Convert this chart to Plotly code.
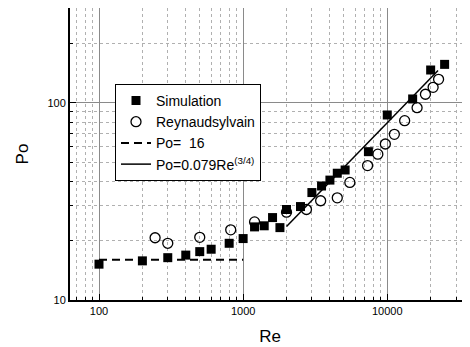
import plotly.graph_objects as go

# Simulation (filled squares)
sim_re = [100, 200, 300, 400, 500, 600, 800, 1000, 1200, 1400, 1600, 1800, 2000, 2500,
          3000, 3500, 4000, 4500, 5100, 7400, 10000, 15000, 20000, 25000]
sim_po = [15.2, 15.8, 16.4, 16.9, 17.6, 18.1, 19.4, 20.5, 23.5, 23.8, 26.2, 23.3, 28.8, 29.8,
          35.1, 37.9, 40.6, 44.0, 45.7, 56.6, 86.9, 104.8, 147, 157]

# Reynaudsylvain (open circles)
rs_re = [245, 300, 500, 820, 1200, 2000, 2750, 3450, 4500, 5500, 7300, 8600, 9700,
         11200, 13200, 16100, 18400, 20800, 22700]
rs_po = [20.7, 19.4, 20.8, 22.7, 24.9, 27.9, 28.8, 31.9, 33.0, 39.5, 48.1, 55.0, 61.9,
         69.3, 81.3, 94.6, 110.7, 120, 131.8]

# Laminar line Po = 16
lam_re = [100, 1000]
lam_po = [16, 16]

# Turbulent fit Po = 0.079 Re^(3/4)
turb_re = [2000, 22500]
turb_po = [23.6, 146]

x_ticks = [100, 1000, 10000]
y_ticks = [10, 100]
x_minor = [70, 80, 90, 200, 300, 400, 500, 600, 700, 800, 900,
           2000, 3000, 4000, 5000, 6000, 7000, 8000, 9000, 20000, 30000]
y_minor = [20, 30, 40, 50, 60, 70, 80, 90, 200, 300]

FONT = "Liberation Sans, Arial, sans-serif"

fig = go.Figure()
fig.add_trace(go.Scatter(x=lam_re, y=lam_po, mode="lines", name="Po=\u00a0 16",
                         line=dict(color="black", width=2, dash="8px,5px"), legendrank=3))
fig.add_trace(go.Scatter(x=turb_re, y=turb_po, mode="lines", name="Po=0.079Re<sup>(3/4)</sup>",
                         line=dict(color="black", width=1.5), legendrank=4))
fig.add_trace(go.Scatter(x=sim_re, y=sim_po, mode="markers", name="Simulation",
                         marker=dict(symbol="square", size=9, color="black"), legendrank=1))
fig.add_trace(go.Scatter(x=rs_re, y=rs_po, mode="markers", name="Reynaudsylvain",
                         marker=dict(symbol="circle-open", size=10, color="black",
                                     line=dict(width=1.3)), legendrank=2))

def axis_common(minor_vals):
    return dict(
        type="log", showline=True, linecolor="black", linewidth=2,
        ticks="inside", ticklen=6, tickcolor="black", tickwidth=1,
        showgrid=True, gridcolor="#8a8a8a", gridwidth=1,
        tickfont=dict(family=FONT, size=11, color="black"),
        zeroline=False, automargin=False,
        minor=dict(tickmode="array", tickvals=minor_vals, ticks="inside", ticklen=3,
                   tickcolor="black", showgrid=True, gridcolor="#b0b0b0",
                   griddash="dot", gridwidth=1),
    )

fig.update_xaxes(**axis_common(x_minor), range=[1.7988, 4.574], tickmode="array",
                 tickvals=x_ticks, ticktext=[str(v) for v in x_ticks], mirror=True,
                 title=dict(text="Re", font=dict(family=FONT, size=17, color="black"), standoff=14))
fig.update_yaxes(**axis_common(y_minor), range=[1, 2.482], tickmode="array",
                 tickvals=y_ticks, ticktext=[str(v) for v in y_ticks], mirror=False,
                 title=dict(text="Po", font=dict(family=FONT, size=17, color="black"), standoff=14))

# page body has an 8px default margin, so the figure is 8px smaller and offset
fig.update_layout(
    width=462, height=339,
    margin=dict(l=62, r=0, t=0, b=47, autoexpand=False),
    plot_bgcolor="white", paper_bgcolor="white",
    font=dict(family=FONT, color="black"),
    legend=dict(x=0.1125, y=0.74, xanchor="left", yanchor="top",
                bgcolor="white", bordercolor="black", borderwidth=1,
                font=dict(family=FONT, size=14, color="black"),
                tracegroupgap=0, itemwidth=30),
    showlegend=True,
)

fig.write_html("out.html")
